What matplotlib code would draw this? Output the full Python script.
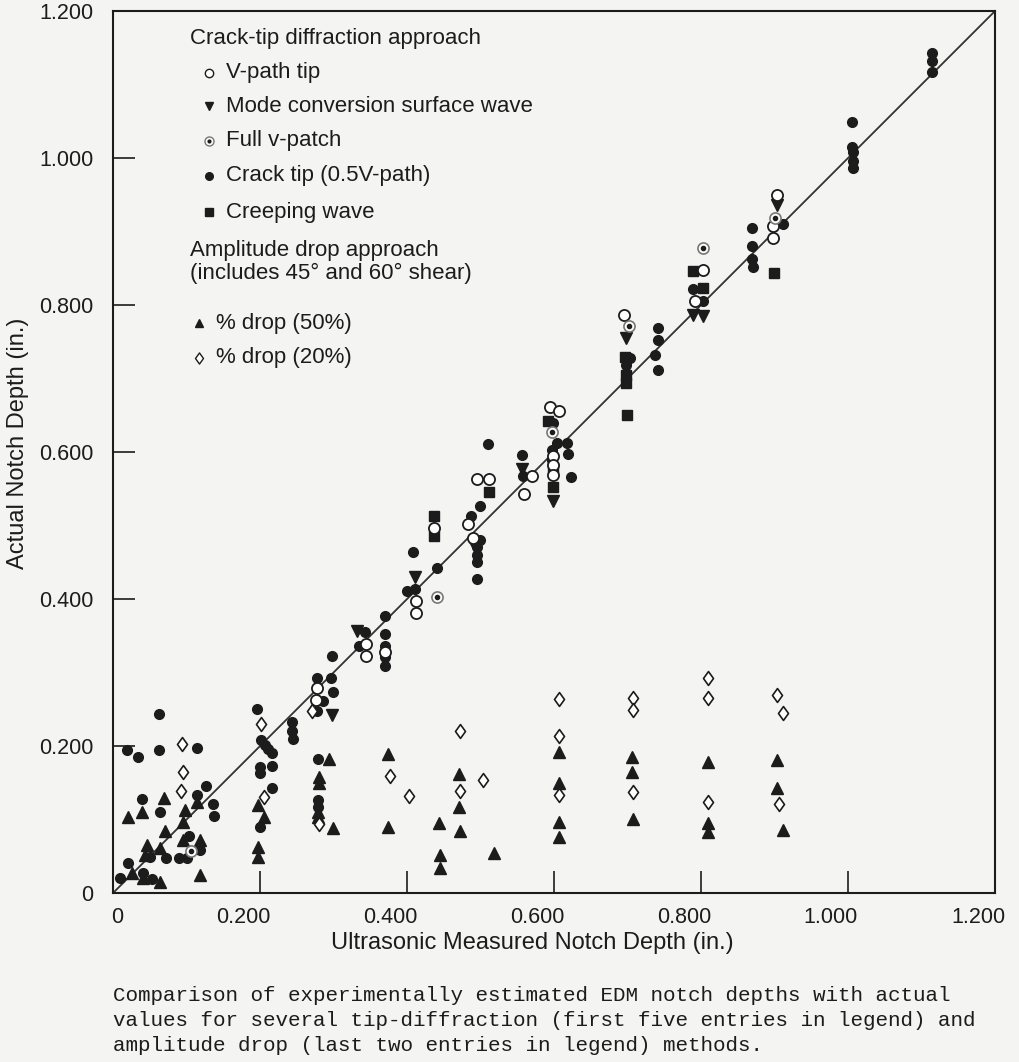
import matplotlib
matplotlib.use('Agg')
import matplotlib.pyplot as plt
import matplotlib.transforms as mtransforms
from matplotlib.path import Path

# --- Data (inches) ---
# Crack tip (0.5V-path) - filled circles
ct_x = [0.127, 0.039, 0.114, 0.136, 0.064, 0.137, 0.103, 0.050, 0.072, 0.090, 0.101, 0.118, 0.020, 0.010,
        0.041, 0.053, 0.063, 0.019, 0.034, 0.063, 0.114,
        0.196, 0.201, 0.207, 0.211, 0.216, 0.200, 0.200, 0.216, 0.216, 0.200,
        0.244, 0.244, 0.245,
        0.298, 0.278, 0.297, 0.286, 0.299, 0.278, 0.279, 0.279, 0.279,
        0.343, 0.335, 0.370, 0.370, 0.370, 0.370, 0.370,
        0.400, 0.411, 0.408, 0.441,
        0.510, 0.499, 0.487, 0.499, 0.495, 0.495, 0.495, 0.495,
        0.556, 0.558,
        0.599, 0.604, 0.618, 0.597, 0.619, 0.597, 0.623,
        0.703, 0.698,
        0.741, 0.741, 0.737, 0.741,
        0.789, 0.803,
        0.869, 0.869, 0.869, 0.871,
        0.912,
        1.005, 1.005, 1.007, 1.007, 1.007,
        1.114, 1.114, 1.114]
ct_y = [0.146, 0.128, 0.133, 0.121, 0.110, 0.105, 0.078, 0.049, 0.048, 0.048, 0.048, 0.059, 0.041, 0.020,
        0.027, 0.019, 0.244, 0.195, 0.185, 0.195, 0.197,
        0.250, 0.208, 0.201, 0.196, 0.190, 0.171, 0.163, 0.173, 0.143, 0.090,
        0.233, 0.220, 0.210,
        0.322, 0.293, 0.293, 0.261, 0.273, 0.248, 0.182, 0.127, 0.117,
        0.355, 0.336, 0.377, 0.352, 0.336, 0.321, 0.309,
        0.411, 0.414, 0.464, 0.442,
        0.611, 0.527, 0.513, 0.480, 0.471, 0.460, 0.450, 0.427,
        0.596, 0.567,
        0.639, 0.612, 0.612, 0.603, 0.597, 0.589, 0.566,
        0.728, 0.718,
        0.769, 0.752, 0.732, 0.712,
        0.822, 0.805,
        0.905, 0.880, 0.863, 0.852,
        0.910,
        1.049, 1.015, 1.008, 0.996, 0.986,
        1.143, 1.132, 1.117]

# V-path tip - open circles
vp_x = [0.276, 0.278, 0.344, 0.344, 0.370, 0.412, 0.412, 0.437, 0.483, 0.490, 0.495, 0.512, 0.570,
        0.559, 0.595, 0.607, 0.599, 0.599, 0.599, 0.695, 0.803, 0.792, 0.903, 0.898, 0.898]
vp_y = [0.263, 0.279, 0.339, 0.322, 0.328, 0.397, 0.381, 0.497, 0.502, 0.483, 0.563, 0.563, 0.567,
        0.543, 0.661, 0.656, 0.595, 0.582, 0.569, 0.786, 0.848, 0.805, 0.950, 0.907, 0.891]

# Mode conversion surface wave - down triangles
mc_x = [0.298, 0.332, 0.411, 0.556, 0.490, 0.599, 0.698, 0.789, 0.803, 0.903]
mc_y = [0.242, 0.356, 0.430, 0.577, 0.476, 0.533, 0.755, 0.786, 0.785, 0.936]

# Full v-patch - dotted circles
fv_x = [0.106, 0.441, 0.597, 0.702, 0.803, 0.901]
fv_y = [0.057, 0.403, 0.627, 0.771, 0.878, 0.918]

# Creeping wave - squares
cw_x = [0.437, 0.437, 0.512, 0.592, 0.599, 0.599, 0.697, 0.698, 0.698, 0.699, 0.789, 0.803, 0.899]
cw_y = [0.513, 0.486, 0.546, 0.642, 0.578, 0.552, 0.729, 0.705, 0.694, 0.650, 0.846, 0.823, 0.844]

# % drop (50%) - up triangles
d50_x = [0.069, 0.114, 0.020, 0.039, 0.098, 0.095, 0.071, 0.095, 0.118, 0.046, 0.064, 0.044, 0.026, 0.041,
         0.064, 0.118,
         0.197, 0.205, 0.197, 0.197,
         0.294, 0.280, 0.280, 0.279, 0.279, 0.299,
         0.374, 0.374,
         0.444, 0.445, 0.445,
         0.471, 0.471, 0.472,
         0.518,
         0.607, 0.607, 0.607, 0.607,
         0.706, 0.706, 0.707,
         0.810, 0.810, 0.810,
         0.903, 0.903, 0.912]
d50_y = [0.129, 0.124, 0.103, 0.110, 0.113, 0.097, 0.084, 0.072, 0.072, 0.065, 0.061, 0.052, 0.027, 0.020,
         0.015, 0.024,
         0.120, 0.103, 0.063, 0.049,
         0.182, 0.158, 0.150, 0.110, 0.103, 0.088,
         0.189, 0.090,
         0.095, 0.052, 0.034,
         0.162, 0.117, 0.084,
         0.054,
         0.192, 0.150, 0.097, 0.076,
         0.185, 0.165, 0.101,
         0.178, 0.095, 0.083,
         0.181, 0.143, 0.086]

# % drop (20%) - open diamonds
d20_x = [0.095, 0.093, 0.094, 0.201, 0.205, 0.271, 0.280, 0.377, 0.403, 0.472, 0.472, 0.503,
         0.607, 0.607, 0.607, 0.707, 0.707, 0.707, 0.810, 0.810, 0.810, 0.903, 0.912, 0.906]
d20_y = [0.165, 0.139, 0.203, 0.230, 0.131, 0.248, 0.094, 0.159, 0.132, 0.220, 0.139, 0.154,
         0.264, 0.214, 0.133, 0.265, 0.249, 0.137, 0.293, 0.265, 0.124, 0.269, 0.245, 0.121]

ticks = [0, 0.2, 0.4, 0.6, 0.8, 1.0, 1.2]
tick_labels = ['0', '0.200', '0.400', '0.600', '0.800', '1.000', '1.200']

caption = ("Comparison of experimentally estimated EDM notch depths with actual\n"
           "values for several tip-diffraction (first five entries in legend) and\n"
           "amplitude drop (last two entries in legend) methods.")

# --- Styling ---
ink = '#1c1c1c'
paper = '#f4f4f2'
plt.rcParams['font.family'] = ['Liberation Sans', 'DejaVu Sans']
diamond = Path([(0, 1), (0.72, 0), (0, -1), (-0.72, 0), (0, 1)],
               [Path.MOVETO, Path.LINETO, Path.LINETO, Path.LINETO, Path.CLOSEPOLY])

fig = plt.figure(figsize=(10.2, 10.62), dpi=100, facecolor=paper)
ax = fig.add_axes([0.1108, 0.1591, 0.8647, 0.8305], facecolor=paper)

# y = x reference line
ax.plot([0, 1.2], [0, 1.2], color='#333333', lw=1.3, zorder=1)

# --- Data points ---
ax.plot(ct_x, ct_y, 'o', ms=7, color=ink, mec=ink, zorder=3)
ax.plot(cw_x, cw_y, 's', ms=7, color=ink, mec=ink, zorder=3)
ax.plot(mc_x, mc_y, 'v', ms=8, color=ink, mec=ink, zorder=3)
ax.plot(d50_x, d50_y, '^', ms=8, color=ink, mec=ink, zorder=3)
ax.plot(vp_x, vp_y, 'o', ms=8, mfc='white', mec=ink, mew=1.3, zorder=4)
ax.plot(fv_x, fv_y, 'o', ms=8, mfc='white', mec='#777777', mew=1.2, zorder=4)
ax.plot(fv_x, fv_y, 'o', ms=3, color=ink, zorder=5)
ax.plot(d20_x, d20_y, ls='none', marker=diamond, ms=10, mfc='white', mec=ink, mew=1.2, zorder=4)

# --- Axes, ticks, labels ---
ax.set_xlim(0, 1.2)
ax.set_ylim(0, 1.2)
for s in ax.spines.values():
    s.set_linewidth(1.5)
    s.set_color(ink)
ax.set_xticks(ticks)
ax.set_yticks(ticks)
ax.set_xticklabels(tick_labels, ha='right')
ax.set_yticklabels(tick_labels)
ax.tick_params(direction='in', length=16, width=1.2, color=ink, labelsize=15.5, labelcolor=ink)
ax.tick_params(axis='y', pad=14)
ax.tick_params(axis='x', pad=10)
shift = mtransforms.ScaledTranslation(0.10, 0, fig.dpi_scale_trans)
for lab in ax.get_xticklabels():
    lab.set_transform(lab.get_transform() + shift)

ax.set_xlabel('Ultrasonic Measured Notch Depth (in.)', fontsize=17, color=ink)
ax.set_ylabel('Actual Notch Depth (in.)', fontsize=17, color=ink)
ax.xaxis.set_label_coords(0.475, -0.0567)
ax.xaxis.label.set_va('center')
ax.yaxis.set_label_coords(-0.1077, 0.510)
ax.yaxis.label.set_va('center')

# --- Hand-drawn legend (text block in upper left) ---
fs = 16
ax.text(0.087, 0.969, 'Crack-tip diffraction approach', fontsize=fs, color=ink, va='center', transform=ax.transAxes)
ax.text(0.087, 0.729, 'Amplitude drop approach', fontsize=fs, color=ink, va='center', transform=ax.transAxes)
ax.text(0.087, 0.703, '(includes 45° and 60° shear)', fontsize=fs, color=ink, va='center', transform=ax.transAxes)

legend_rows = [
    (0.930, 'V-path tip', dict(marker='o', ms=6, mfc='white', mec=ink, mew=1.0)),
    (0.892, 'Mode conversion surface wave', dict(marker='v', ms=6, color=ink)),
    (0.853, 'Full v-patch', dict(marker='o', ms=6.5, mfc='white', mec='#777777', mew=1.0)),
    (0.813, 'Crack tip (0.5V-path)', dict(marker='o', ms=5.5, color=ink)),
    (0.772, 'Creeping wave', dict(marker='s', ms=5.5, color=ink)),
]
for yy, label, mk in legend_rows:
    ax.plot([0.109], [yy], ls='none', transform=ax.transAxes, clip_on=False, **mk)
    ax.text(0.128, yy, label, fontsize=fs, color=ink, va='center', transform=ax.transAxes)
ax.plot([0.109], [0.853], 'o', ms=2, color=ink, transform=ax.transAxes)

ax.plot([0.098], [0.646], '^', ms=6, color=ink, transform=ax.transAxes)
ax.text(0.117, 0.646, '% drop (50%)', fontsize=fs, color=ink, va='center', transform=ax.transAxes)
ax.plot([0.098], [0.607], ls='none', marker=diamond, ms=8, mfc='white', mec=ink, mew=1.0, transform=ax.transAxes)
ax.text(0.117, 0.607, '% drop (20%)', fontsize=fs, color=ink, va='center', transform=ax.transAxes)

# --- Caption below the chart ---
fig.text(113 / 1020, 1 - 986 / 1062, caption, fontsize=15, family='Liberation Mono', color=ink,
         va='top', ha='left', linespacing=1.4)

fig.savefig('out.png', dpi=100, facecolor=paper)
